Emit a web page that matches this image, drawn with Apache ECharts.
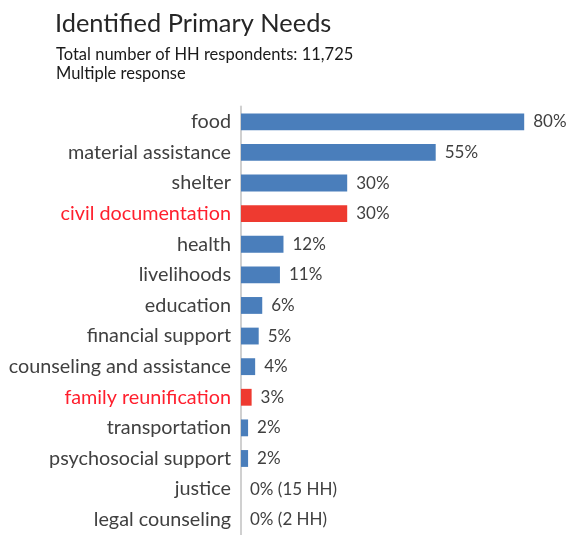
<!DOCTYPE html>
<html>
<head>
<meta charset="utf-8">
<style>
  html, body { margin: 0; padding: 0; background: #ffffff; }
  #chart { width: 569px; height: 535px; }
</style>
<script src="https://cdn.jsdelivr.net/npm/echarts@6/dist/echarts.min.js"></script>
</head>
<body>
<div id="chart"></div>
<script>
// Needs, top to bottom
const categories = [
  'food', 'material assistance', 'shelter', 'civil documentation', 'health',
  'livelihoods', 'education', 'financial support', 'counseling and assistance',
  'family reunification', 'transportation', 'psychosocial support', 'justice',
  'legal counseling'
];
// Share of households (%)
const shares = [80, 55, 30, 30, 12, 11, 6, 5, 4, 3, 2, 2, 0, 0];
// Household counts shown for very small shares
const hhCounts = [null, null, null, null, null, null, null, null, null, null, null, null, 15, 2];
// Needs drawn in the accent colour
const highlighted = ['civil documentation', 'family reunification'];

const BLUE = '#4a7ebb';
const RED = '#ee3a30';
const RED_TEXT = '#ff1f2d';
const TEXT = '#404040';
const FONT = 'Lato, "Open Sans", sans-serif';

const chart = echarts.init(document.getElementById('chart'));

chart.setOption({
  animation: false,
  title: [
    {
      text: 'Identified Primary Needs',
      left: 50, top: 6,
      textStyle: { fontFamily: FONT, fontSize: 25.4, fontWeight: 'normal', color: '#262626' }
    },
    {
      text: 'Total number of HH respondents: 11,725\nMultiple response',
      left: 51, top: 40,
      textStyle: { fontFamily: FONT, fontSize: 16.5, fontWeight: 'normal', color: '#1a1a1a', lineHeight: 19 }
    }
  ],
  grid: { left: 241, top: 106.5, width: 318.6, height: 433 },
  xAxis: {
    type: 'value', min: 0, max: 90,
    show: false
  },
  yAxis: {
    type: 'category',
    inverse: true,
    data: categories,
    axisLine: { show: true, lineStyle: { color: '#d0d0d0', width: 2 } },
    axisTick: { show: false },
    axisLabel: {
      margin: 10,
      fontFamily: FONT,
      fontSize: 19.8,
      color: (value) => highlighted.includes(value) ? RED_TEXT : TEXT
    }
  },
  series: [{
    type: 'bar',
    data: shares,
    barCategoryGap: '45%',
    itemStyle: {
      color: (p) => highlighted.includes(categories[p.dataIndex]) ? RED : BLUE
    },
    label: {
      show: true,
      position: 'right',
      distance: 9,
      fontFamily: FONT,
      fontSize: 17,
      color: TEXT,
      formatter: (p) => {
        const hh = hhCounts[p.dataIndex];
        return p.value + '%' + (hh != null ? ' (' + hh + ' HH)' : '');
      }
    }
  }]
});
</script>
</body>
</html>
